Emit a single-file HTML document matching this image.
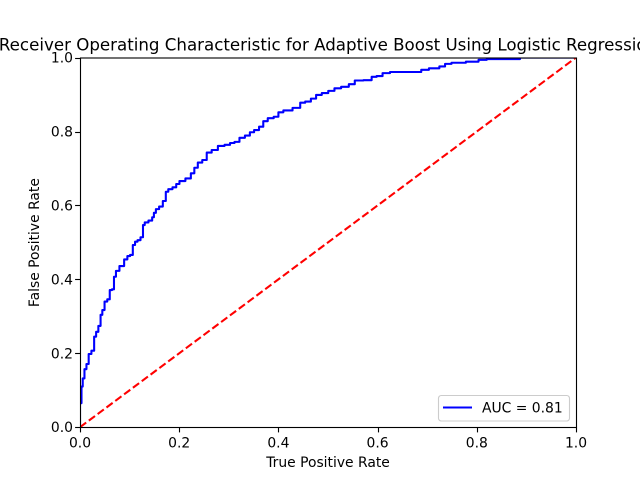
<!DOCTYPE html>
<html>
<head>
<meta charset="utf-8">
<title>ROC Chart</title>
<style>
html,body{margin:0;padding:0;background:#fff;width:640px;height:480px;overflow:hidden}
svg{display:block;position:absolute;left:0;top:0}
text{font-family:"DejaVu Sans","Liberation Sans",sans-serif;fill:#000}
</style>
</head>
<body>
<svg id="chart" xmlns="http://www.w3.org/2000/svg" width="640" height="480" viewBox="0 0 640 480">
<rect x="0" y="0" width="640" height="480" fill="#fff"/>
<defs><clipPath id="plot-clip"><rect x="80" y="57.6" width="496" height="369.6"/></clipPath></defs>
<rect x="80" y="57.6" width="496" height="369.6" fill="#fff"/>
<g id="series" clip-path="url(#plot-clip)"></g>
<g id="ticks"></g>
<rect x="80.5" y="58" width="496" height="369.5" fill="none" stroke="#000" stroke-width="1.11"/>
<text x="328" y="50.4" font-size="16.67" text-anchor="middle">Receiver Operating Characteristic for Adaptive Boost Using Logistic Regression</text>
<text x="328" y="467" font-size="13.89" text-anchor="middle">True Positive Rate</text>
<text transform="translate(39.2 242.6) rotate(-90)" font-size="13.89" text-anchor="middle">False Positive Rate</text>
<g>
<rect x="438.5" y="395.5" width="131" height="25.5" rx="2.8" ry="2.8" fill="#fff" fill-opacity="0.8" stroke="#ccc" stroke-width="1.11"/>
<line id="legend-line" x1="443" y1="407.5" x2="472" y2="407.5" stroke="#0000ff" stroke-width="2.08"/>
<text x="482" y="412.5" font-size="13.89">AUC = 0.81</text>
</g>
</svg>
<script>
const fprValues = [0,0,0.002,0.004,0.007,0.011,0.015,0.020,0.026,0.031,0.034,0.040,0.043,0.047,0.052,0.058,0.062,0.067,0.070,0.075,0.084,0.094,0.097,0.105,0.108,0.114,0.118,0.126,0.128,0.133,0.143,0.148,0.150,0.156,0.163,0.171,0.175,0.181,0.192,0.196,0.205,0.220,0.227,0.234,0.241,0.252,0.259,0.272,0.284,0.299,0.306,0.317,0.326,0.339,0.346,0.356,0.366,0.373,0.384,0.397,0.403,0.417,0.440,0.448,0.460,0.471,0.481,0.494,0.507,0.519,0.534,0.550,0.558,0.585,0.591,0.605,0.615,0.635,0.685,0.691,0.716,0.733,0.739,0.759,0.797,0.810,0.830,0.887,0.887,1];
const tprValues = [0,0.065,0.065,0.110,0.132,0.157,0.171,0.198,0.207,0.245,0.258,0.274,0.304,0.317,0.340,0.346,0.371,0.373,0.407,0.423,0.436,0.454,0.463,0.466,0.493,0.502,0.506,0.514,0.547,0.554,0.559,0.568,0.580,0.590,0.597,0.612,0.637,0.644,0.649,0.658,0.666,0.673,0.687,0.702,0.716,0.723,0.743,0.750,0.761,0.764,0.769,0.772,0.783,0.789,0.798,0.804,0.813,0.828,0.836,0.840,0.852,0.857,0.864,0.878,0.881,0.889,0.899,0.904,0.910,0.917,0.921,0.928,0.938,0.939,0.948,0.950,0.958,0.961,0.961,0.967,0.971,0.976,0.983,0.986,0.989,0.994,0.996,0.996,1,1];
const chanceX = [0,1];
const chanceY = [0,1];
const xTickValues = [0,0.2,0.4,0.6,0.8,1];
const yTickValues = [0,0.2,0.4,0.6,0.8,1];
const xTickLabels = ["0.0","0.2","0.4","0.6","0.8","1.0"];
const yTickLabels = ["0.0","0.2","0.4","0.6","0.8","1.0"];

const NS = "http://www.w3.org/2000/svg";
const plot = {left:80, right:576, top:57.6, bottom:427.2};
function xScale(v){ return plot.left + v * (plot.right - plot.left); }
function yScale(v){ return plot.bottom - v * (plot.bottom - plot.top); }
function pointsFrom(xs, ys){
  return xs.map(function(x,i){ return xScale(x).toFixed(2) + "," + yScale(ys[i]).toFixed(2); }).join(" ");
}
function stepPointsFrom(xs, ys){
  const out = [xScale(xs[0]).toFixed(2) + "," + yScale(ys[0]).toFixed(2)];
  for (let i = 1; i < xs.length; i++) {
    const mid = xScale((xs[i-1] + xs[i]) / 2).toFixed(2);
    out.push(mid + "," + yScale(ys[i-1]).toFixed(2));
    out.push(mid + "," + yScale(ys[i]).toFixed(2));
    out.push(xScale(xs[i]).toFixed(2) + "," + yScale(ys[i]).toFixed(2));
  }
  return out.join(" ");
}

const seriesGroup = document.getElementById("series");
const tickGroup = document.getElementById("ticks");

const rocLine = document.createElementNS(NS,"polyline");


rocLine.setAttribute("points", stepPointsFrom(fprValues, tprValues));
rocLine.setAttribute("fill","none");
rocLine.setAttribute("stroke","#0000ff");
rocLine.setAttribute("stroke-width","2.08");
rocLine.setAttribute("stroke-linejoin","round");
seriesGroup.appendChild(rocLine);

const chanceLine = document.createElementNS(NS,"polyline");


chanceLine.setAttribute("points", pointsFrom(chanceX, chanceY));
chanceLine.setAttribute("fill","none");
chanceLine.setAttribute("stroke","#ff0000");
chanceLine.setAttribute("stroke-width","2.08");
chanceLine.setAttribute("stroke-dasharray","7.7 3.3");
seriesGroup.appendChild(chanceLine);

xTickValues.forEach(function(v,i){
  const px = Math.round(xScale(v)) + 0.5;
  const mark = document.createElementNS(NS,"line");
  
  
  mark.setAttribute("x1",px);
  mark.setAttribute("x2",px);
  mark.setAttribute("y1",427.5);
  mark.setAttribute("y2",432.4);
  mark.setAttribute("stroke","#000");
  mark.setAttribute("stroke-width","1.11");
  tickGroup.appendChild(mark);
  const label = document.createElementNS(NS,"text");
  
  
  label.setAttribute("x",xScale(v));
  label.setAttribute("y",447.5);
  label.setAttribute("font-size","13.89");
  label.setAttribute("text-anchor","middle");
  label.textContent = xTickLabels[i];
  tickGroup.appendChild(label);
});

yTickValues.forEach(function(v,i){
  const py = Math.round(yScale(v)) + 0.5;
  const mark = document.createElementNS(NS,"line");
  
  
  mark.setAttribute("x1",75.1);
  mark.setAttribute("x2",80.5);
  mark.setAttribute("y1",py);
  mark.setAttribute("y2",py);
  mark.setAttribute("stroke","#000");
  mark.setAttribute("stroke-width","1.11");
  tickGroup.appendChild(mark);
  const label = document.createElementNS(NS,"text");
  
  
  label.setAttribute("x",73);
  label.setAttribute("y",yScale(v)+5);
  label.setAttribute("font-size","13.89");
  label.setAttribute("text-anchor","end");
  label.textContent = yTickLabels[i];
  tickGroup.appendChild(label);
});
</script>
</body>
</html>
